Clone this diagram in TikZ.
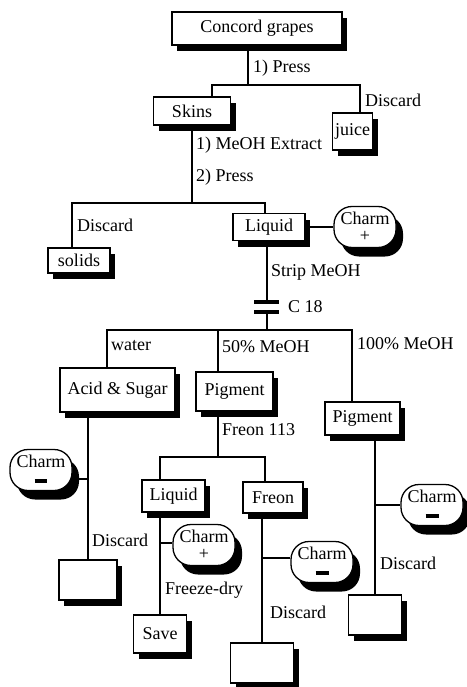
\documentclass[tikz,border=0pt]{standalone}
\usepackage{fontspec}
\setmainfont{Liberation Serif}
\usepackage{tikz}
\usetikzlibrary{shadows}

\newcommand{\minusbar}{\rule[2pt]{13pt}{3.5pt}}

\begin{document}
\begin{tikzpicture}[x=1pt,y=-1pt,font=\fontsize{18}{20}\selectfont,
                    box node/.style={rectangle,draw,line width=1.3pt,fill=white,inner sep=2pt,
                      drop shadow={shadow xshift=5pt,shadow yshift=-6pt,opacity=1,fill=black}},
                    charm node/.style={rectangle,rounded corners=18pt,draw,line width=1.3pt,fill=white,
                      minimum width=62pt,minimum height=41pt,inner sep=0pt,align=center,
                      font=\fontsize{18}{17}\selectfont,
                      drop shadow={shadow xshift=7pt,shadow yshift=-9pt,opacity=1,fill=black}},
                    link/.style={line width=2.6pt},
                    plate/.style={line width=3.2pt},
                    note/.style={anchor=west,inner sep=0pt}]
  \useasboundingbox (0,0) rectangle (466,687);

  \node[box node,minimum width=170pt,minimum height=33pt] (grapes) at (257,28.5) {Concord grapes};
  \node[box node,minimum width=77pt,minimum height=28pt] (skins) at (192,111) {Skins};
  \node[box node,minimum width=40pt,minimum height=37pt] (juice) at (352.5,131.5) {juice};
  \node[box node,minimum width=62pt,minimum height=25pt] (solids) at (79,260.5) {solids};
  \node[box node,minimum width=72pt,minimum height=27pt] (liquidA) at (269,227) {Liquid};
  \node[charm node] (charmA) at (365,227) {Charm\\+};
  \node[box node,minimum width=115pt,minimum height=44pt] (acid) at (117.5,390) {Acid \& Sugar};
  \node[box node,minimum width=77pt,minimum height=39pt] (pigA) at (234.5,391.5) {Pigment};
  \node[box node,minimum width=75pt,minimum height=33pt] (pigB) at (362.5,418.5) {Pigment};
  \node[charm node] (charmB) at (41,470) {Charm\\\minusbar};
  \node[box node,minimum width=58pt,minimum height=40pt] (discA) at (88,580) {};
  \node[box node,minimum width=63pt,minimum height=32pt] (liquidB) at (173.5,496) {Liquid};
  \node[box node,minimum width=60pt,minimum height=31pt] (freon) at (273,497.5) {Freon};
  \node[charm node] (charmC) at (204,545) {Charm\\+};
  \node[box node,minimum width=53pt,minimum height=38pt] (save) at (160,634) {Save};
  \node[charm node] (charmD) at (322,562) {Charm\\\minusbar};
  \node[box node,minimum width=63pt,minimum height=40pt] (discB) at (262,663) {};
  \node[charm node] (charmE) at (432,505) {Charm\\\minusbar};
  \node[box node,minimum width=53pt,minimum height=40pt] (discC) at (375,615) {};

  % junctions
  \coordinate (j1) at (248,85);
  \coordinate (j1l) at (212,85);
  \coordinate (j1r) at (360,85);
  \coordinate (j2) at (192,203);
  \coordinate (j2l) at (72,203);
  \coordinate (j2r) at (265,203);
  \coordinate (capT) at (267,302);
  \coordinate (capB) at (267,312);
  \coordinate (j3) at (267,330);
  \coordinate (j3l) at (107,330);
  \coordinate (j3m) at (218,330);
  \coordinate (j3r) at (352,330);
  \coordinate (j4) at (218,457);
  \coordinate (j4l) at (160,457);
  \coordinate (j4r) at (265,457);
  \coordinate (sA) at (88,479);
  \coordinate (sB) at (160,543);
  \coordinate (sC) at (262,558);
  \coordinate (sD) at (375,505);

  \draw[link] (grapes.south -| j1) -- (j1);
  \draw[link] (skins.north -| j1l) |- (j1r) -- (juice.north -| j1r);
  \draw[link] (skins.south) -- (j2);
  \draw[link] (solids.north -| j2l) |- (j2r) -- (liquidA.north -| j2r);
  \draw[link] (liquidA.east) -- (liquidA.east -| charmA.west);
  \draw[link] (liquidA.south -| capT) -- (capT);
  \draw[plate] ([xshift=-13pt]capT) -- ([xshift=12pt]capT);
  \draw[plate] ([xshift=-13pt]capB) -- ([xshift=12pt]capB);
  \draw[link] (capB) -- (j3);
  \draw[link] (acid.north -| j3l) |- (j3r) -- (pigB.north -| j3r);
  \draw[link] (j3m) -- (pigA.north -| j3m);
  \draw[link] (acid.south -| discA) -- (discA.north);
  \draw[link] (sA) -- (sA -| charmB.east);
  \draw[link] (pigA.south -| j4) -- (j4);
  \draw[link] (liquidB.north -| j4l) |- (j4r) -- (freon.north -| j4r);
  \draw[link] (liquidB.south -| save) -- (save.north);
  \draw[link] (sB) -- (sB -| charmC.west);
  \draw[link] (freon.south -| discB) -- (discB.north);
  \draw[link] (sC) -- (sC -| charmD.west);
  \draw[link] (pigB.south -| discC) -- (discC.north);
  \draw[link] (sD) -- (sD -| charmE.west);

  % labels
  \node[note] (pressA) at (253,68) {1) Press};
  \node[note] (discardA) at (365,100) {Discard};
  \node[note] (extract) at (196,145) {1) MeOH Extract};
  \node[note] (pressB) at (196,177) {2) Press};
  \node[note] (discardB) at (77,225) {Discard};
  \node[note] (strip) at (271,272) {Strip MeOH};
  \node[note] (c18) at (288,307) {C 18};
  \node[note] (water) at (111,346) {water};
  \node[note] (meohA) at (222,347) {50\% MeOH};
  \node[note] (meohB) at (357,344) {100\% MeOH};
  \node[note] (freonlbl) at (222,430) {Freon 113};
  \node[note] (discardC) at (92,540) {Discard};
  \node[note] (freeze) at (165,590) {Freeze-dry};
  \node[note] (discardD) at (270,612) {Discard};
  \node[note] (discardE) at (380,563) {Discard};
\end{tikzpicture}
\end{document}
